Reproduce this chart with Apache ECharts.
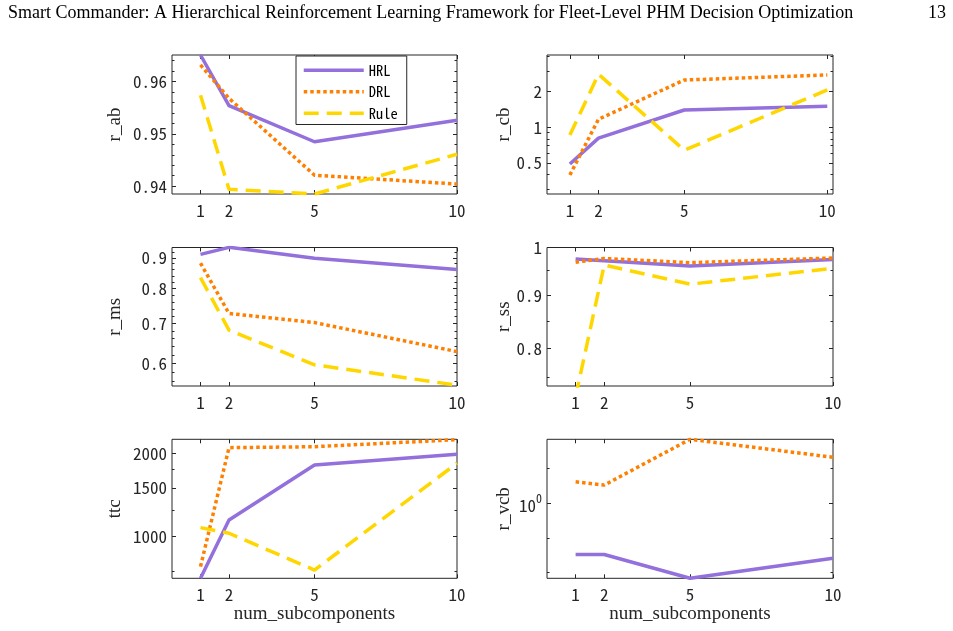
<!DOCTYPE html>
<html>
<head>
<meta charset="utf-8">
<script src="https://cdn.jsdelivr.net/npm/echarts@6/dist/echarts.min.js"></script>
<style>
html,body{margin:0;padding:0;background:#fff;}
#chart{width:953px;height:631px;}
</style>
</head>
<body>
<div id="chart"></div>
<script>
// ---------- data ----------
const xValues = [1, 2, 5, 10];
const xTicks = [1, 2, 5, 10];
const seriesNames = ['HRL', 'DRL', 'Rule'];

const r_ab_HRL  = [0.9651, 0.9554, 0.9485, 0.9526];
const r_ab_DRL  = [0.9632, 0.9568, 0.9421, 0.9404];
const r_ab_Rule = [0.9574, 0.9394, 0.9385, 0.9461];

const r_cb_HRL  = [0.49, 0.81, 1.40, 1.51];
const r_cb_DRL  = [0.395, 1.17, 2.51, 2.77];
const r_cb_Rule = [0.86, 2.81, 0.64, 2.07];

const r_ms_HRL  = [0.912, 0.937, 0.899, 0.861];
const r_ms_DRL  = [0.882, 0.727, 0.702, 0.628];
const r_ms_Rule = [0.834, 0.682, 0.597, 0.552];

const r_ss_HRL  = [0.975, 0.971, 0.960, 0.974];
const r_ss_DRL  = [0.968, 0.976, 0.967, 0.977];
const r_ss_Rule = [0.719, 0.962, 0.922, 0.955];

const ttc_HRL  = [708, 1149, 1815, 1984];
const ttc_DRL  = [780, 2096, 2113, 2240];
const ttc_Rule = [1078, 1029, 758, 1841];

const r_vcb_HRL = [0.712, 0.712, 0.608, 0.694];
const r_vcb_DRL = [1.153, 1.128, 1.528, 1.356];

// tick values
const r_ab_major = [0.94, 0.95, 0.96];
const r_ab_minor = [0.942, 0.944, 0.946, 0.948, 0.952, 0.954, 0.956, 0.958, 0.962, 0.964];
const r_cb_major = [0.5, 1, 2];
const r_cb_minor = [0.3, 0.4, 0.6, 0.7, 0.8, 0.9, 3, 4];
const r_ms_major = [0.6, 0.7, 0.8, 0.9];
const r_ms_minor = [0.56, 0.58, 0.62, 0.64, 0.66, 0.68, 0.72, 0.74, 0.76, 0.78, 0.82, 0.84, 0.86, 0.88, 0.92];
const r_ss_major = [0.8, 0.9, 1];
const r_ss_minor = [0.75, 0.85, 0.95];
const ttc_major = [1000, 1500, 2000];
const ttc_minor = [750, 1250, 1750];
const r_vcb_major = [1];
const r_vcb_minor = [0.631, 0.794, 1.259];

// ---------- layout / style ----------
const COLORS = {HRL: '#9370DB', DRL: '#FF8000', Rule: '#FFD700'};
const LINES = {
  HRL: {type: 'solid'},
  DRL: {type: [3.5, 3]},
  Rule: {type: [15, 8]}
};
const AX = '#262626';
const TICKFONT = "'Noto Sans Mono CJK SC', 'DejaVu Sans Mono', monospace";
const TICKSIZE = 17;

const panels = [
  {label: 'r_ab', g: {left: 172, top: 55, width: 285, height: 139}, xMin: 0, xMax: 10,
   yType: 'value', yMin: 0.9385, yMax: 0.9651, major: r_ab_major, minor: r_ab_minor,
   data: {HRL: r_ab_HRL, DRL: r_ab_DRL, Rule: r_ab_Rule}, fmt: v => v.toFixed(2)},
  {label: 'r_cb', g: {left: 547, top: 55, width: 286, height: 139}, xMin: 0.2, xMax: 10.2,
   yType: 'log', yMin: 0.273, yMax: 4.086, major: r_cb_major, minor: r_cb_minor,
   data: {HRL: r_cb_HRL, DRL: r_cb_DRL, Rule: r_cb_Rule}, fmt: v => String(v)},
  {label: 'r_ms', g: {left: 172, top: 247.5, width: 285, height: 138.5}, xMin: 0, xMax: 10,
   yType: 'log', yMin: 0.5503, yMax: 0.9365, major: r_ms_major, minor: r_ms_minor,
   data: {HRL: r_ms_HRL, DRL: r_ms_DRL, Rule: r_ms_Rule}, fmt: v => v.toFixed(1)},
  {label: 'r_ss', g: {left: 547, top: 247.5, width: 286, height: 138.5}, xMin: 0, xMax: 10,
   yType: 'log', yMin: 0.736, yMax: 1.0, major: r_ss_major, minor: r_ss_minor,
   data: {HRL: r_ss_HRL, DRL: r_ss_DRL, Rule: r_ss_Rule}, fmt: v => (v === 1 ? '1' : v.toFixed(1))},
  {label: 'ttc', g: {left: 172, top: 439.3, width: 285, height: 139}, xMin: 0, xMax: 10,
   yType: 'log', yMin: 707.6, yMax: 2247, major: ttc_major, minor: ttc_minor,
   data: {HRL: ttc_HRL, DRL: ttc_DRL, Rule: ttc_Rule}, fmt: v => String(v)},
  {label: 'r_vcb', g: {left: 547, top: 439.3, width: 286, height: 139}, xMin: 0, xMax: 10,
   yType: 'log', yMin: 0.608, yMax: 1.528, major: r_vcb_major, minor: r_vcb_minor,
   data: {HRL: r_vcb_HRL, DRL: r_vcb_DRL}, fmt: v => '{b|10}{s|0}'}
];

const grid = [], xAxis = [], yAxis = [], series = [], graphic = [];

panels.forEach((p, i) => {
  grid.push(Object.assign({show: true, borderColor: AX, borderWidth: 1, backgroundColor: '#fff'}, p.g));
  const xBase = {type: 'value', gridIndex: i, min: p.xMin, max: p.xMax,
    axisLine: {show: false}, splitLine: {show: false}};
  const xi = xAxis.length;
  xAxis.push(Object.assign({}, xBase, {position: 'bottom',
    axisTick: {show: true, inside: true, length: 4, lineStyle: {color: AX}, customValues: xTicks},
    axisLabel: {show: true, margin: 8, color: AX, fontFamily: TICKFONT, fontSize: TICKSIZE, customValues: xTicks,
      formatter: v => String(v), showMinLabel: true, showMaxLabel: true}}));
  xAxis.push(Object.assign({}, xBase, {position: 'top',
    axisTick: {show: true, inside: true, length: 4, lineStyle: {color: AX}, customValues: xTicks},
    axisLabel: {show: false}}));
  const yBase = {type: p.yType, gridIndex: i, min: p.yMin, max: p.yMax,
    axisLine: {show: false}, splitLine: {show: false}};
  const yi = yAxis.length;
  yAxis.push(Object.assign({}, yBase, {position: 'left',
    axisTick: {show: true, inside: true, length: 4, lineStyle: {color: AX}, customValues: p.major},
    axisLabel: {show: true, margin: 5, color: AX, fontFamily: TICKFONT, fontSize: TICKSIZE, customValues: p.major,
      formatter: p.fmt, showMinLabel: true, showMaxLabel: true,
      rich: {b: {fontFamily: TICKFONT, fontSize: TICKSIZE, color: AX, verticalAlign: 'bottom'},
             s: {fontFamily: TICKFONT, fontSize: 12, color: AX, verticalAlign: 'top', padding: [0, 0, 9, 0]}}}}));
  yAxis.push(Object.assign({}, yBase, {position: 'left',
    axisTick: {show: true, inside: true, length: 2.5, lineStyle: {color: AX}, customValues: p.minor},
    axisLabel: {show: false}}));
  yAxis.push(Object.assign({}, yBase, {position: 'right',
    axisTick: {show: true, inside: true, length: 4, lineStyle: {color: AX}, customValues: p.major},
    axisLabel: {show: false}}));
  yAxis.push(Object.assign({}, yBase, {position: 'right',
    axisTick: {show: true, inside: true, length: 2.5, lineStyle: {color: AX}, customValues: p.minor},
    axisLabel: {show: false}}));

  seriesNames.forEach(name => {
    const vals = p.data[name];
    if (!vals) return;
    series.push({
      type: 'line', name: name, xAxisIndex: xi, yAxisIndex: yi,
      data: xValues.map((x, k) => [x, vals[k]]),
      symbol: 'none', clip: true, animation: false,
      lineStyle: Object.assign({color: COLORS[name], width: 3.5, cap: 'butt', join: 'round'}, LINES[name]),
      itemStyle: {color: COLORS[name]},
      z: name === 'HRL' ? 2 : (name === 'DRL' ? 3 : 4)
    });
  });

  // y-axis name (rotated)
  const cx = p.g.left < 300 ? 115 : 504;
  graphic.push({type: 'text', x: cx, y: p.g.top + p.g.height / 2, rotation: Math.PI / 2,
    style: {text: p.label, fontFamily: 'Liberation Serif', fontSize: 19, fill: AX,
      align: 'center', verticalAlign: 'middle'}});
});

// x-axis names under bottom row
graphic.push({type: 'text', x: 314.5, y: 614, style: {text: 'num_subcomponents',
  fontFamily: 'Liberation Serif', fontSize: 19, fill: AX, align: 'center', verticalAlign: 'middle'}});
graphic.push({type: 'text', x: 690, y: 614, style: {text: 'num_subcomponents',
  fontFamily: 'Liberation Serif', fontSize: 19, fill: AX, align: 'center', verticalAlign: 'middle'}});
// page header
graphic.push({type: 'text', x: 8, y: 13, style: {text: 'Smart Commander: A Hierarchical Reinforcement Learning Framework for Fleet-Level PHM Decision Optimization',
  fontFamily: 'Liberation Serif', fontSize: 18, fill: '#000', align: 'left', verticalAlign: 'middle'}});
graphic.push({type: 'text', x: 946, y: 13, style: {text: '13',
  fontFamily: 'Liberation Serif', fontSize: 18, fill: '#000', align: 'right', verticalAlign: 'middle'}});

const option = {
  backgroundColor: '#fff',
  animation: false,
  grid, xAxis, yAxis, series, graphic,
  legend: {
    data: seriesNames, orient: 'vertical', left: 296, top: 56,
    padding: [7, 9, 4, 6], itemWidth: 60, itemHeight: 14, itemGap: 7,
    backgroundColor: '#fff', borderColor: AX, borderWidth: 1, borderRadius: 0,
    itemStyle: {opacity: 0},
    lineStyle: {width: 3.5},
    textStyle: {fontFamily: TICKFONT, fontSize: 14.5, color: '#000'},
    selectedMode: false, z: 10
  }
};

const chart = echarts.init(document.getElementById('chart'), null, {renderer: 'canvas'});
chart.setOption(option);
</script>
</body>
</html>
